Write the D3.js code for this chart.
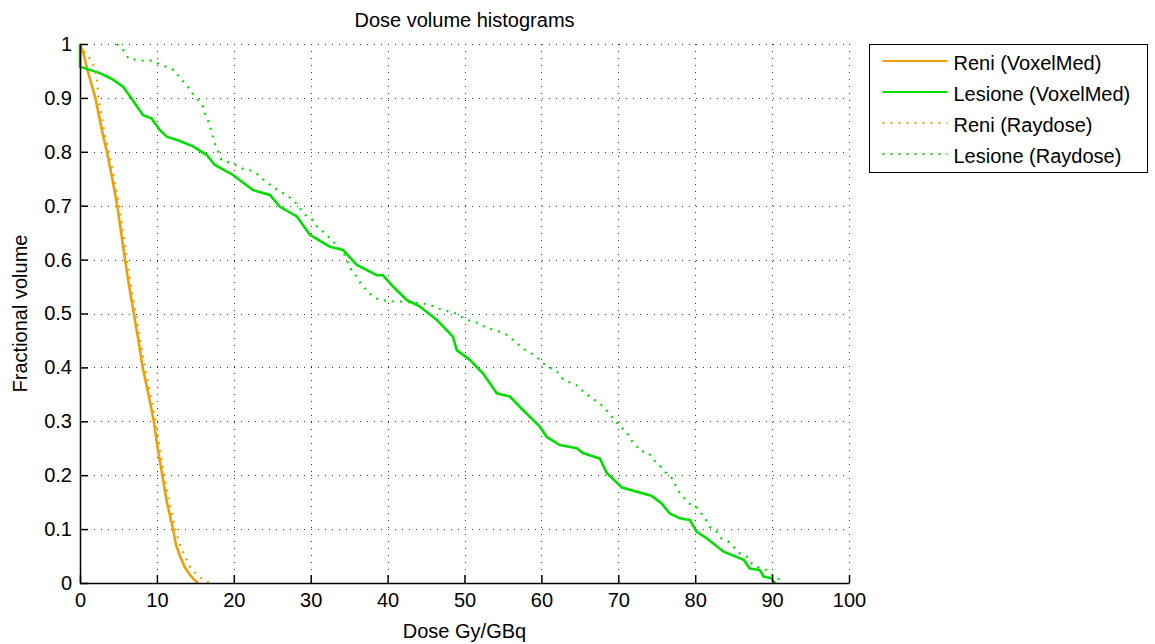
<!DOCTYPE html>
<html>
<head>
<meta charset="utf-8">
<script src="https://cdn.jsdelivr.net/npm/d3@7"></script>
<style>
  body { margin: 0; background: #fff; }
  svg text { font-family: "Liberation Sans", Arial, sans-serif; fill: #000; }
</style>
</head>
<body>
<svg id="chart" width="1155" height="644"></svg>
<script>
// dati (dose in Gy/GBq, volume frazionario)
const reniVoxDose = [0, 0.5, 0.9, 2.0, 3.0, 3.5, 4.2, 4.85, 5.35, 5.85, 6.4, 7.0, 7.6, 8.15, 8.9, 9.6, 10.1, 10.7, 11.3, 12.1, 12.5, 13.0, 13.6, 14.3, 15.0, 15.4];
const reniVoxVol = [1, 0.98, 0.955, 0.90, 0.83, 0.80, 0.75, 0.70, 0.65, 0.60, 0.55, 0.50, 0.45, 0.40, 0.35, 0.30, 0.25, 0.20, 0.15, 0.10, 0.07, 0.05, 0.03, 0.015, 0.004, 0];

const lesVoxDose = [0, 0, 2.6, 4.3, 5.6, 6.7, 8.2, 9.3, 10.4, 11.3, 13.0, 14.7, 16.5, 17.5, 19.9, 22.5, 24.7, 26.0, 28.2, 29.9, 32.5, 34.2, 36.0, 38.6, 39.4, 40.7, 42.5, 44.2, 46.4, 48.5, 49.0, 50.7, 52.4, 54.2, 55.9, 57.6, 59.8, 60.7, 62.4, 64.6, 65.4, 67.6, 68.5, 70.5, 72.2, 74.3, 75.6, 76.7, 78.0, 79.3, 80.2, 81.5, 83.7, 86.3, 87.1, 88.4, 88.9, 89.9, 90.2, 90.5];
const lesVoxVol = [1, 0.958, 0.946, 0.934, 0.921, 0.899, 0.868, 0.862, 0.840, 0.828, 0.820, 0.810, 0.794, 0.776, 0.757, 0.729, 0.720, 0.698, 0.680, 0.646, 0.624, 0.618, 0.590, 0.571, 0.571, 0.550, 0.525, 0.513, 0.488, 0.457, 0.432, 0.414, 0.389, 0.352, 0.346, 0.321, 0.290, 0.271, 0.256, 0.250, 0.241, 0.231, 0.204, 0.177, 0.170, 0.162, 0.148, 0.129, 0.120, 0.117, 0.095, 0.083, 0.058, 0.043, 0.027, 0.024, 0.012, 0.009, 0.002, 0];

const reniRayDose = [0, 0.6, 1.1, 1.65, 2.2, 2.4, 3.25, 3.75, 4.45, 5.1, 5.6, 6.1, 6.65, 7.25, 7.85, 8.45, 9.15, 9.85, 10.35, 10.95, 11.6, 12.4, 13.0, 13.65, 14.3, 15.2, 16.1, 16.9];
const reniRayVol = [1, 0.985, 0.977, 0.964, 0.935, 0.90, 0.83, 0.80, 0.75, 0.70, 0.65, 0.60, 0.55, 0.50, 0.45, 0.40, 0.35, 0.30, 0.25, 0.20, 0.15, 0.10, 0.07, 0.05, 0.03, 0.015, 0.005, 0];

const lesRayDose = [4.8, 5.6, 6.3, 8.2, 9.3, 10.2, 11.3, 12.4, 13.0, 13.9, 14.3, 15.2, 16.0, 16.3, 16.7, 17.3, 17.6, 18.4, 20.2, 21.2, 22.3, 23.2, 24.1, 25.1, 26.0, 26.9, 28.0, 28.6, 29.3, 30.3, 31.0, 31.9, 32.7, 34.2, 34.7, 35.3, 36.0, 36.6, 37.5, 38.1, 39.0, 41.0, 42.0, 44.2, 45.3, 47.2, 48.5, 50.3, 51.4, 52.0, 53.1, 54.2, 55.3, 56.1, 56.8, 57.6, 58.7, 59.8, 60.5, 61.3, 62.3, 62.8, 63.7, 65.0, 65.4, 66.3, 67.4, 68.3, 68.9, 69.6, 70.2, 71.0, 71.5, 72.4, 72.8, 73.9, 74.6, 75.2, 76.1, 77.0, 77.8, 79.1, 80.1, 80.6, 81.3, 81.9, 82.8, 83.4, 84.3, 85.0, 85.8, 86.7, 87.3, 88.2, 89.3, 89.9, 90.4, 91.2, 91.5];
const lesRayVol = [1.0, 0.989, 0.973, 0.969, 0.969, 0.964, 0.957, 0.950, 0.936, 0.925, 0.913, 0.899, 0.884, 0.868, 0.856, 0.828, 0.813, 0.785, 0.776, 0.768, 0.765, 0.757, 0.745, 0.735, 0.726, 0.720, 0.706, 0.695, 0.683, 0.673, 0.658, 0.649, 0.636, 0.615, 0.599, 0.581, 0.568, 0.553, 0.540, 0.531, 0.525, 0.522, 0.522, 0.519, 0.517, 0.506, 0.503, 0.488, 0.485, 0.479, 0.473, 0.468, 0.462, 0.454, 0.445, 0.435, 0.426, 0.414, 0.404, 0.398, 0.389, 0.378, 0.372, 0.364, 0.355, 0.346, 0.335, 0.324, 0.312, 0.302, 0.290, 0.283, 0.268, 0.254, 0.245, 0.242, 0.228, 0.221, 0.206, 0.194, 0.171, 0.148, 0.142, 0.132, 0.120, 0.104, 0.095, 0.083, 0.077, 0.067, 0.055, 0.049, 0.037, 0.029, 0.024, 0.017, 0.009, 0.006, 0];

const seriesNames = ["Reni (VoxelMed)", "Lesione (VoxelMed)", "Reni (Raydose)", "Lesione (Raydose)"];
const xTicks = [0, 10, 20, 30, 40, 50, 60, 70, 80, 90, 100];
const yTicks = [0, 0.1, 0.2, 0.3, 0.4, 0.5, 0.6, 0.7, 0.8, 0.9, 1];

const ORANGE = "#eba00a";
const GREEN = "#00dd00";

const series = [
  { name: seriesNames[0], dose: reniVoxDose, vol: reniVoxVol, color: ORANGE, dash: null, w: 2.6 },
  { name: seriesNames[1], dose: lesVoxDose, vol: lesVoxVol, color: GREEN, dash: null, w: 2.6 },
  { name: seriesNames[2], dose: reniRayDose, vol: reniRayVol, color: ORANGE, dash: "2 6", w: 2.2 },
  { name: seriesNames[3], dose: lesRayDose, vol: lesRayVol, color: GREEN, dash: "2 6", w: 2.2 },
];

const svg = d3.select("#chart");
const margin = { top: 44, left: 80, right: 306, bottom: 61 };
const W = 1155, H = 644;

const x = d3.scaleLinear().domain([0, 100]).range([margin.left, W - margin.right]);
const y = d3.scaleLinear().domain([0, 1]).range([H - margin.bottom, margin.top]);

// griglia tratteggiata
const grid = svg.append("g").attr("stroke", "#333").attr("stroke-width", 1).attr("stroke-dasharray", "1 6");
grid.selectAll(".gx").data(xTicks.slice(1)).enter().append("line")
  .attr("x1", d => Math.round(x(d)) + 0.5).attr("x2", d => Math.round(x(d)) + 0.5)
  .attr("y1", y(1)).attr("y2", y(0));
grid.selectAll(".gy").data(yTicks.slice(1)).enter().append("line")
  .attr("y1", d => Math.round(y(d)) + 0.5).attr("y2", d => Math.round(y(d)) + 0.5)
  .attr("x1", x(0)).attr("x2", x(100));

// curve
const line = d3.line().x(d => x(d[0])).y(d => y(d[1]));
svg.append("g").selectAll("path").data(series).enter().append("path")
  .attr("d", s => line(s.dose.map((d, i) => [d, s.vol[i]])))
  .attr("fill", "none")
  .attr("stroke", s => s.color)
  .attr("stroke-width", s => s.w)
  .attr("stroke-dasharray", s => s.dash);

// assi
const xAxis = d3.axisBottom(x).tickValues(xTicks).tickSizeInner(-8).tickSizeOuter(0).tickPadding(10).tickFormat(d3.format("d"));
const yAxis = d3.axisLeft(y).tickValues(yTicks).tickSizeInner(-8).tickSizeOuter(0).tickPadding(8).tickFormat(d3.format("~g"));

const gx = svg.append("g").attr("transform", `translate(0,${y(0)})`).call(xAxis);
const gy = svg.append("g").attr("transform", `translate(${x(0)},0)`).call(yAxis);
[gx, gy].forEach(g => {
  g.attr("font-family", null).attr("font-size", null);
  g.select(".domain").attr("stroke", "#000").attr("stroke-width", 1.5);
  g.selectAll(".tick line").attr("stroke", "#000").attr("stroke-width", 1.5);
  g.selectAll(".tick text").style("font-size", "20px");
});

// titoli
svg.append("text").attr("x", (x(0) + x(100)) / 2).attr("y", 27)
  .attr("text-anchor", "middle").style("font-size", "20px").text("Dose volume histograms");
svg.append("text").attr("x", (x(0) + x(100)) / 2).attr("y", 638)
  .attr("text-anchor", "middle").style("font-size", "20px").text("Dose Gy/GBq");
svg.append("text").attr("transform", `translate(27,${(y(0) + y(1)) / 2}) rotate(-90)`)
  .attr("text-anchor", "middle").style("font-size", "20px").text("Fractional volume");

// legenda
const legend = svg.append("g").attr("transform", "translate(869.5,44.5)");
legend.append("rect").attr("width", 278).attr("height", 128)
  .attr("fill", "#fff").attr("stroke", "#000").attr("stroke-width", 1);
const item = legend.selectAll(".item").data(series).enter().append("g")
  .attr("transform", (d, i) => `translate(0,${16.5 + i * 31})`);
item.append("line").attr("x1", 13).attr("x2", 78)
  .attr("stroke", d => d.color).attr("stroke-width", 2.2)
  .attr("stroke-dasharray", d => d.dash);
item.append("text").attr("x", 84).attr("y", 1.5).attr("dominant-baseline", "central")
  .style("font-size", "20px").text(d => d.name);
</script>
</body>
</html>
